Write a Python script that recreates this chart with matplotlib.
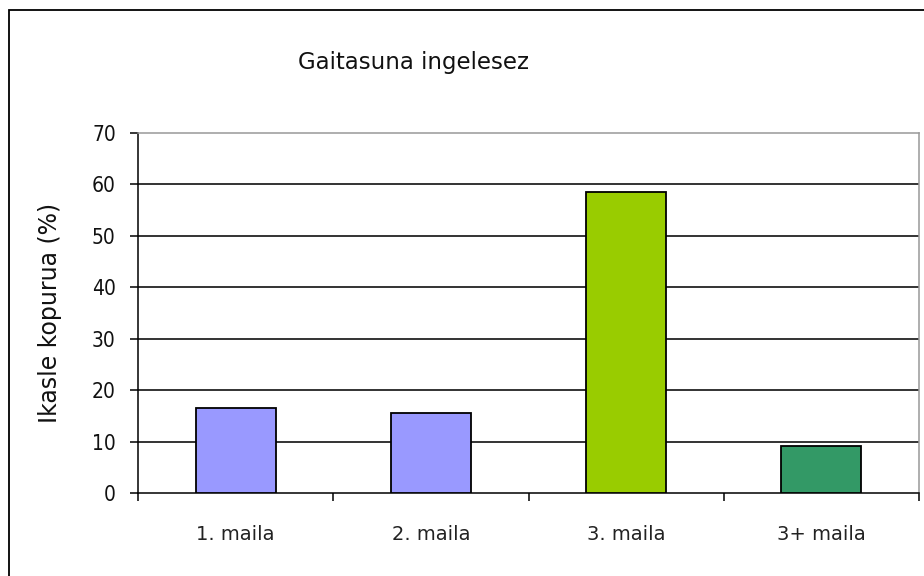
import matplotlib
matplotlib.use("Agg")
import matplotlib.pyplot as plt
import matplotlib.patches as patches
import numpy as np

# data
categories = ["1. maila", "2. maila", "3. maila", "3+ maila"]
values = [16.5, 15.5, 58.5, 9.2]
colors = ["#9999FF", "#9999FF", "#99CC00", "#339966"]
yticks = [0, 10, 20, 30, 40, 50, 60, 70]

plt.rcParams["font.family"] = ["DejaVu Sans"]

fig = plt.figure(figsize=(9.24, 5.76), dpi=100)
ax = fig.add_axes([138 / 924, 83 / 576, 781 / 924, 360 / 576])

x = np.arange(len(categories))
ax.bar(x, values, width=0.41, color=colors, edgecolor="black", linewidth=1.3, zorder=3)

# --- axes ---
ax.set_xlim(-0.5, len(categories) - 0.5)
ax.set_ylim(0, 70)
ax.set_yticks(yticks)
ax.set_yticklabels([str(t) for t in yticks], fontsize=15, fontstretch="condensed", color="#111111")
for t in yticks[1:-1]:
    ax.axhline(t, color="#111111", linewidth=1.2, zorder=1)

ax.set_xticks(x)
ax.set_xticklabels(categories, fontsize=14, color="#222222")
ax.set_xticks(np.arange(-0.5, len(categories), 1.0), minor=True)
ax.tick_params(axis="x", which="major", length=0, pad=23)
ax.tick_params(axis="x", which="minor", length=6, width=1.1, direction="out")
ax.tick_params(axis="y", length=6, width=1.1, direction="out", pad=10)

for s in ["left", "bottom"]:
    ax.spines[s].set_color("black")
    ax.spines[s].set_linewidth(1.1)
for s in ["top", "right"]:
    ax.spines[s].set_color("#999999")
    ax.spines[s].set_linewidth(1.1)

ax.set_ylabel("Ikasle kopurua (%)", fontsize=17, color="#111111")
ax.yaxis.set_label_coords(-0.097, 0.5)

fig.text(413 / 924, 1 - 63 / 576, "Gaitasuna ingelesez", fontsize=16.5,
         ha="center", va="center", color="#111111")

# outer frame (right and bottom edges fall outside the image)
frame = patches.Rectangle((9 / 924, -0.1), 1.2, 1.1 - 10 / 576, transform=fig.transFigure,
                          fill=False, edgecolor="black", linewidth=1.3, clip_on=False)
fig.patches.append(frame)

fig.savefig("out.png", dpi=100)
